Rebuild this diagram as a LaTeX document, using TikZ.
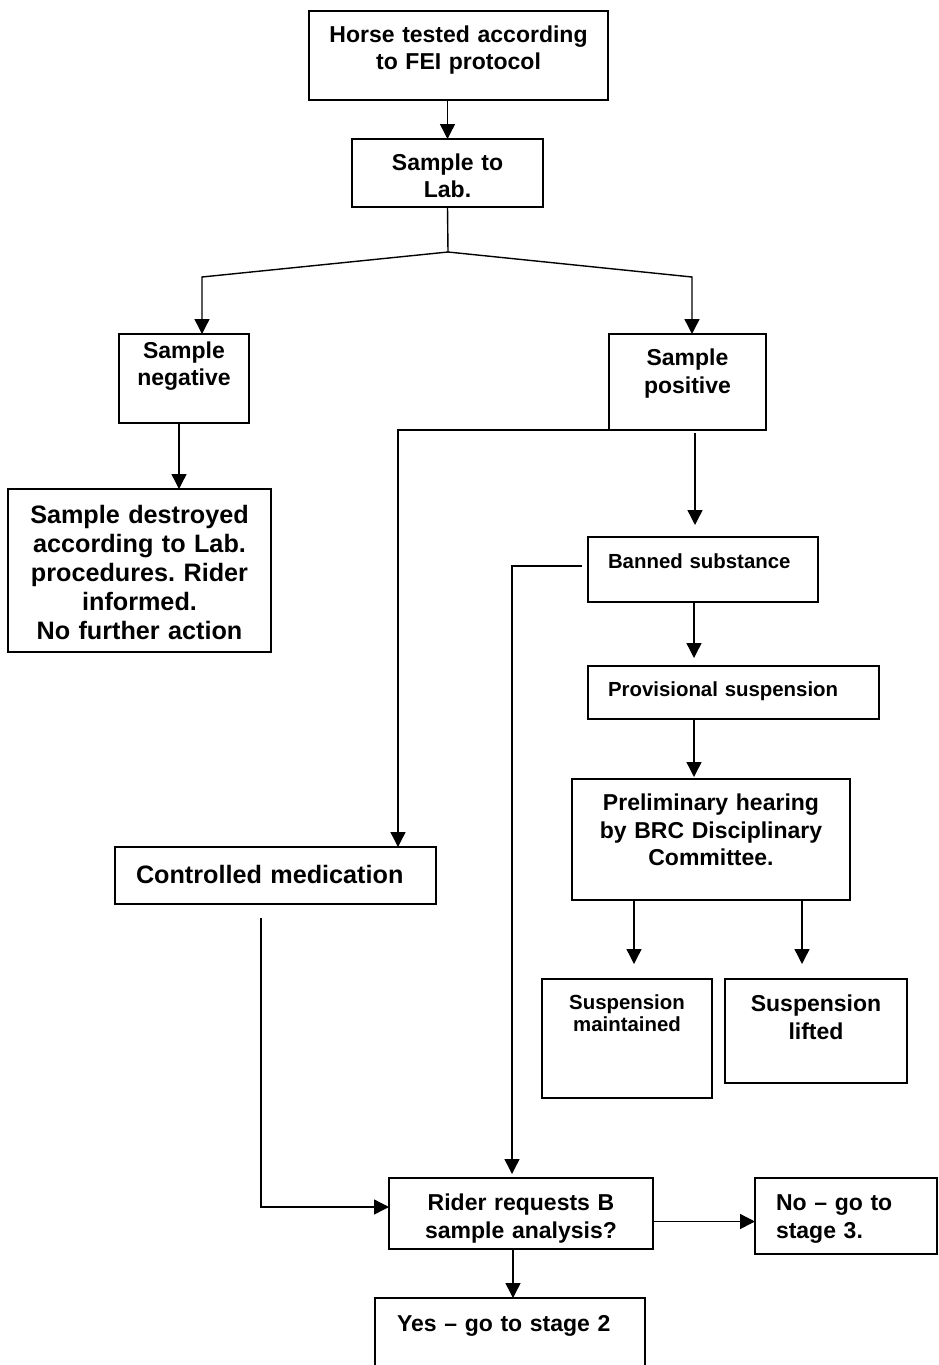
\documentclass[tikz,border=0pt]{standalone}
\usepackage{fontspec}
\setmainfont{Liberation Sans}
\frenchspacing
\usetikzlibrary{arrows.meta,positioning}

\begin{document}
\begin{tikzpicture}[x=0.5pt,y=-0.5pt,
    box/.style={draw,line width=0.9pt,anchor=north,outer sep=0pt,
      inner xsep=3pt,inner ysep=0pt,align=center},
    boxl/.style={box,align=left,inner xsep=10pt},
    fbig/.style={font=\bfseries\fontsize{12.6}{14.5}\selectfont},
    fmid/.style={font=\bfseries\fontsize{11.5}{13.75}\selectfont},
    fsml/.style={font=\bfseries\fontsize{10.2}{11}\selectfont},
    arr/.style={line width=0.7pt,-{Triangle[length=7.5pt,width=7.5pt]}}]
  \useasboundingbox (0,0) rectangle (938,1365);

  % Sampling
  \node[box,fmid,text width=143.5pt,text height=15.65pt,text depth=28.85pt]
    (test) at (458.5,11) {Horse tested according\\to FEI protocol};
  \node[box,fmid,text width=89.5pt,text height=15.5pt,text depth=18.5pt]
    (lab) at (447.5,139) {Sample to\\Lab.};
  \node[box,fmid,text width=59pt,text height=12.2pt,text depth=32.3pt]
    (neg) at (184,334) {Sample\\negative};
  \node[box,fmid,text width=72.5pt,text height=15.85pt,text depth=32.15pt]
    (pos) at (687.5,334) {Sample\\positive};
  \node[box,fbig,text width=125.5pt,text height=17.15pt,text depth=64.35pt]
    (destroy) at (139.5,489) {Sample destroyed\\according to Lab.\\procedures. Rider\\informed.\\No further action};

  % Banned substance branch
  \node[boxl,fsml,text width=95pt,text height=15.65pt,text depth=16.85pt]
    (banned) at (703,537) {Banned substance};
  \node[boxl,fsml,text width=125.5pt,text height=15.35pt,text depth=11.15pt]
    (provis) at (733.5,666) {Provisional suspension};
  \node[box,fmid,text width=133pt,text height=15.85pt,text depth=44.65pt]
    (hearing) at (711,779) {Preliminary hearing\\by BRC Disciplinary\\Committee.};
  \node[box,fsml,text width=79pt,text height=15pt,text depth=44.5pt]
    (maint) at (627,979) {Suspension\\maintained};
  \node[box,fmid,text width=85pt,text height=16.35pt,text depth=35.65pt]
    (lifted) at (816,979) {Suspension\\lifted};

  % Controlled medication and B sample
  \node[boxl,fbig,inner xsep=10.5pt,text width=139.5pt,text height=18.15pt,text depth=10.35pt]
    (medic) at (275.5,847) {Controlled medication};
  \node[box,fmid,text width=126pt,text height=16.35pt,text depth=19.15pt]
    (request) at (521,1178) {Rider requests B\\sample analysis?};
  \node[boxl,fmid,inner xsep=10.5pt,text width=70pt,text height=16.35pt,text depth=21.65pt]
    (nostage) at (846,1178) {No – go to\\stage 3.};
  \node[boxl,fmid,inner xsep=11pt,text width=113pt,text height=16.85pt,text depth=43.15pt]
    (yesstage) at (510,1298) {Yes – go to stage 2};

  % Connectors
  \coordinate (split) at (448,252);
  \coordinate (bendL) at (202,277);
  \coordinate (bendR) at (692,277);
  \draw[arr] (test.south -| lab.north) -- (lab.north);
  \draw[arr] (lab.south) -- (split) -- (bendL) -- (bendL |- neg.north);
  \draw[arr] (split) -- (bendR) -- (bendR |- pos.north);
  \draw[arr] ([xshift=-2.5pt]neg.south) -- ([xshift=-2.5pt]neg.south |- destroy.north);
  \draw[arr] (pos.south west) -| ([xshift=61.25pt]medic.north);
  \draw[arr,shorten <=1.5pt,shorten >=6pt] ([xshift=3.75pt]pos.south) -- ([xshift=3.75pt]pos.south |- banned.north);
  \draw[arr] ([shift={(-3pt,1.75pt)}]banned.west) -| ([shift={(-4.5pt,2pt)}]request.north);
  \draw[arr,shorten >=4pt] ([xshift=-4.5pt]banned.south) -- ([xshift=-4.5pt]banned.south |- provis.north);
  \draw[arr,shorten >=1pt] ([xshift=-19.75pt]provis.south) -- ([xshift=-19.75pt]provis.south |- hearing.north);
  \draw[arr,shorten >=7.5pt] ([xshift=3.5pt]maint.north |- hearing.south) -- ([xshift=3.5pt]maint.north);
  \draw[arr,shorten >=7.5pt] ([xshift=-7pt]lifted.north |- hearing.south) -- ([xshift=-7pt]lifted.north);
  \draw[arr] ([shift={(-7.25pt,-7pt)}]medic.south) |- ([yshift=3.25pt]request.west);
  \draw[arr] ([yshift=-4pt]request.east) -- ([yshift=-4pt]request.east -| nostage.west);
  \draw[arr] ([xshift=-4pt]request.south) -- ([xshift=-4pt]request.south |- yesstage.north);
\end{tikzpicture}
\end{document}
